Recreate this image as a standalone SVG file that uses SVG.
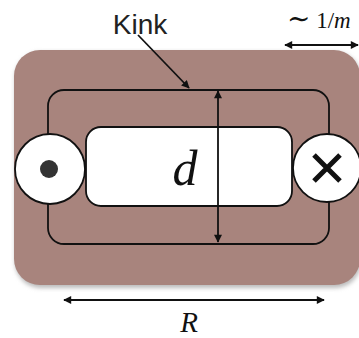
<svg xmlns="http://www.w3.org/2000/svg" width="359" height="338" viewBox="0 0 359 338">
<style>
.ln{fill:none;stroke:#111;stroke-width:1.8}
.wh{fill:#fff;stroke:#111;stroke-width:1.8}
.math{font-family:"Liberation Serif",serif;font-style:italic;fill:#111}
</style>
<defs>
<marker id="ah" viewBox="0 0 10 10" refX="9" refY="5" markerWidth="9" markerHeight="8" markerUnits="userSpaceOnUse" orient="auto-start-reverse">
<path d="M0,0 L10,5 L0,10 z" fill="#111"/>
</marker>
<filter id="sh" x="-10%" y="-10%" width="120%" height="130%">
<feGaussianBlur stdDeviation="2"/>
</filter>
</defs>
<rect width="359" height="338" fill="#fff"/>
<g id="background">
<rect x="15" y="52" width="346" height="236" rx="26" fill="#bbb" filter="url(#sh)"/>
<rect x="14" y="50" width="346" height="235" rx="26" fill="#a8847d"/>
</g>
<g id="kink-loop">
<rect x="48" y="90" width="281" height="154" rx="16" class="ln"/>
</g>
<g id="inner-region">
<rect x="86" y="127" width="206" height="79" rx="15" class="wh"/>
</g>
<g id="left-charge">
<circle cx="50" cy="169" r="35" class="wh"/>
<circle cx="49" cy="169" r="9" fill="#333"/>
</g>
<g id="right-charge">
<circle cx="327" cy="168" r="34" class="wh"/>
<path d="M314,155 L340,181 M340,155 L314,181" stroke="#111" stroke-width="5" stroke-linecap="butt"/>
</g>
<g id="connectors">
<line x1="218" y1="242" x2="218" y2="91" class="ln" marker-start="url(#ah)" marker-end="url(#ah)"/>
<line x1="138" y1="35" x2="189" y2="88" class="ln" marker-end="url(#ah)"/>
<line x1="285" y1="45" x2="358" y2="45" class="ln" marker-start="url(#ah)" marker-end="url(#ah)"/>
<line x1="64" y1="300" x2="324" y2="300" class="ln" marker-start="url(#ah)" marker-end="url(#ah)"/>
</g>
<g id="labels">
<text x="185" y="185" class="math" font-size="50" text-anchor="middle">d</text>
<text x="140" y="34" font-family="Liberation Sans,sans-serif" font-size="28" fill="#222" text-anchor="middle">Kink</text>
<text x="287" y="28" font-family="DejaVu Serif,serif" font-size="28" fill="#111">∼<tspan font-family="Liberation Serif,serif" font-size="23"> 1/<tspan font-style="italic">m</tspan></tspan></text>
<text x="189" y="332" class="math" font-size="29" text-anchor="middle">R</text>
</g>
</svg>
